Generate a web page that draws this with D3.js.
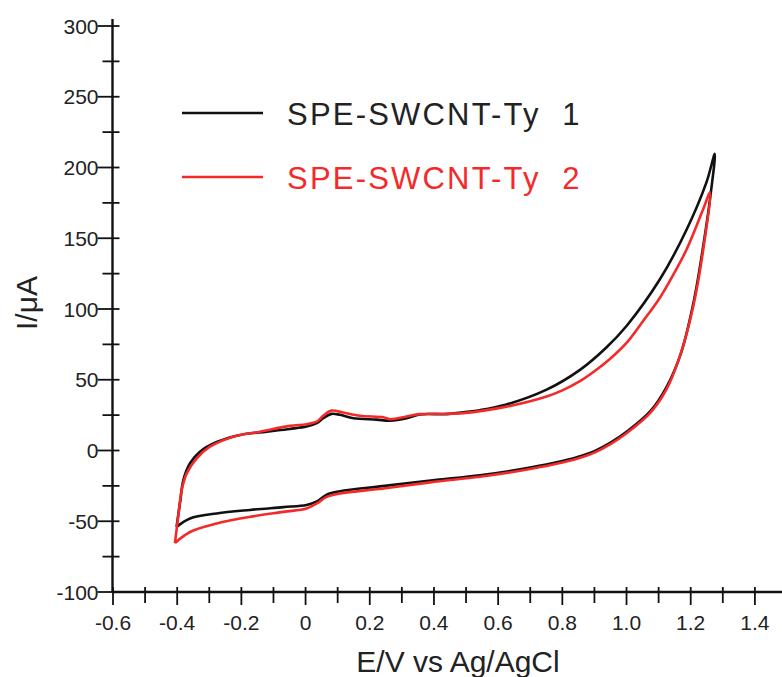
<!DOCTYPE html>
<html>
<head>
<meta charset="utf-8">
<script src="https://cdn.jsdelivr.net/npm/d3@7"></script>
<style>
  html, body { margin: 0; padding: 0; background: #fff; }
  svg { display: block; font-family: "Liberation Sans", Arial, sans-serif; }
</style>
</head>
<body>
<div id="chart"></div>
<script>
// cyclic voltammograms (E in V, I in µA)
// each list runs from -0.4 V up to the switching potential and back
const ty1E = [-0.402, -0.39, -0.381, -0.36, -0.33, -0.277, -0.204, -0.121, -0.049, 0.003, 0.035, 0.055, 0.081, 0.107, 0.149, 0.221, 0.263, 0.315, 0.356, 0.44, 0.491, 0.543, 0.626, 0.751, 0.855, 0.938, 1.0, 1.104, 1.187, 1.249, 1.275,
              1.262, 1.24, 1.21, 1.17, 1.125, 1.075, 1.0, 0.95, 0.9, 0.85, 0.8, 0.75, 0.65, 0.543, 0.39, 0.24, 0.107, 0.066, 0.035, 0.003, -0.069, -0.173, -0.277, -0.36, -0.402];
const ty1I = [-54, -35, -21, -9, -1, 6, 11, 13.3, 15.2, 16.9, 19.3, 22.8, 25.9, 25.2, 22.8, 21.8, 21.1, 22.8, 25.5, 25.7, 27, 28.5, 32.5, 43, 57, 73, 88, 121, 156, 189.5, 209.6,
              181, 146, 106, 69, 45, 28, 13.2, 5.5, -0.5, -4.5, -7.5, -10, -14, -17.5, -21.2, -25.2, -28.8, -31.2, -36, -38.5, -40, -42, -44.5, -48, -54];
const ty2E = [-0.407, -0.397, -0.386, -0.37, -0.339, -0.298, -0.225, -0.142, -0.049, 0.003, 0.035, 0.055, 0.081, 0.117, 0.17, 0.242, 0.263, 0.315, 0.356, 0.491, 0.626, 0.751, 0.8, 0.855, 0.9, 0.95, 1.0, 1.05, 1.104, 1.15, 1.187, 1.239, 1.26,
              1.239, 1.208, 1.166, 1.124, 1.073, 1.0, 0.95, 0.9, 0.85, 0.8, 0.75, 0.65, 0.543, 0.388, 0.242, 0.107, 0.066, 0.035, 0.003, -0.069, -0.173, -0.277, -0.36, -0.407];
const ty2I = [-65.4, -47, -28, -16, -5.5, 2.7, 9.8, 13.3, 17.4, 18.6, 20.4, 24.5, 28.2, 26.8, 24.5, 23.5, 22.1, 24, 25.7, 26.4, 31, 38.2, 42.5, 49, 56, 65, 76, 91, 108, 126, 142, 170.6, 182.4,
              142, 102, 66.5, 43, 26.4, 12.2, 4.5, -1.5, -5.5, -8.5, -11, -15, -18.5, -22.5, -26.8, -30.4, -32.8, -37.4, -41, -43.4, -46.9, -51.6, -57.6, -65.4];

const seriesNames = ["SPE-SWCNT-Ty  1", "SPE-SWCNT-Ty  2"];
const seriesColors = ["#111111", "#f42a2a"];

const xMajor = [-0.6, -0.4, -0.2, 0, 0.2, 0.4, 0.6, 0.8, 1.0, 1.2, 1.4];
const xTickLabels = ["-0.6", "-0.4", "-0.2", "0", "0.2", "0.4", "0.6", "0.8", "1.0", "1.2", "1.4"];
const xMinor = [-0.5, -0.3, -0.1, 0.1, 0.3, 0.5, 0.7, 0.9, 1.1, 1.3];
const yMajor = [-100, -50, 0, 50, 100, 150, 200, 250, 300];
const yTickLabels = ["-100", "-50", "0", "50", "100", "150", "200", "250", "300"];
const yMinor = [-75, -25, 25, 75, 125, 175, 225, 275];

const width = 782, height = 677;

const svg = d3.select("#chart").append("svg")
  .attr("width", width)
  .attr("height", height);

const x = d3.scaleLinear().domain([-0.6, 1.5]).range([113, 787]);
const y = d3.scaleLinear().domain([-100, 300]).range([592, 26]);

const axisX0 = x(-0.6) - 0.5;
const axisY0 = y(-100);

// axis lines
svg.append("line")
  .attr("x1", axisX0).attr("x2", width)
  .attr("y1", axisY0).attr("y2", axisY0)
  .attr("stroke", "#111").attr("stroke-width", 2.4);

svg.append("line")
  .attr("x1", axisX0).attr("x2", axisX0)
  .attr("y1", axisY0).attr("y2", 19)
  .attr("stroke", "#111").attr("stroke-width", 2.4);

// x ticks, they hang below the axis
const xt = svg.append("g").attr("stroke", "#111").attr("stroke-width", 1.8);
xt.selectAll("line.maj")
  .data(xMajor)
  .join("line")
  .attr("class", "maj")
  .attr("x1", d => x(d)).attr("x2", d => x(d))
  .attr("y1", axisY0 - 5).attr("y2", axisY0 + 13);
xt.selectAll("line.min")
  .data(xMinor)
  .join("line")
  .attr("class", "min")
  .attr("x1", d => x(d)).attr("x2", d => x(d))
  .attr("y1", axisY0 - 5).attr("y2", axisY0 + 11);

svg.append("g")
  .selectAll("text")
  .data(xMajor)
  .join("text")
  .attr("x", d => x(d))
  .attr("y", 630)
  .attr("text-anchor", "middle")
  .style("font-size", "21px")
  .style("fill", "#222")
  .text((d, i) => xTickLabels[i]);

// y ticks cross the axis
const yt = svg.append("g").attr("stroke", "#111").attr("stroke-width", 1.8);
yt.selectAll("line.maj")
  .data(yMajor)
  .join("line")
  .attr("class", "maj")
  .attr("x1", axisX0 - 15).attr("x2", axisX0 + 7)
  .attr("y1", d => y(d)).attr("y2", d => y(d));
yt.selectAll("line.min")
  .data(yMinor)
  .join("line")
  .attr("class", "min")
  .attr("x1", axisX0 - 10).attr("x2", axisX0 + 7)
  .attr("y1", d => y(d)).attr("y2", d => y(d));

svg.append("g")
  .selectAll("text")
  .data(yMajor)
  .join("text")
  .attr("x", axisX0 - 14)
  .attr("y", d => y(d) + 7.5)
  .attr("text-anchor", "end")
  .style("font-size", "21px")
  .style("fill", "#222")
  .text((d, i) => yTickLabels[i]);

// axis titles
svg.append("text")
  .attr("x", 458)
  .attr("y", 672)
  .attr("text-anchor", "middle")
  .style("font-size", "30px")
  .style("fill", "#222")
  .text("E/V vs Ag/AgCl");

svg.append("text")
  .attr("transform", "translate(37,303) rotate(-90)")
  .attr("text-anchor", "middle")
  .style("font-size", "30px")
  .style("fill", "#222")
  .text("I/μA");

// curves
const line = d3.line()
  .x(d => x(d[0]))
  .y(d => y(d[1]))
  .curve(d3.curveCatmullRom.alpha(0.5));

const curves = [
  ty1E.map((e, i) => [e, ty1I[i]]),
  ty2E.map((e, i) => [e, ty2I[i]])
];

// red drawn last, it sits on top of the black one
svg.append("g")
  .attr("fill", "none")
  .attr("stroke-width", 2.6)
  .attr("stroke-linejoin", "round")
  .selectAll("path")
  .data(curves)
  .join("path")
  .attr("stroke", (d, i) => seriesColors[i])
  .attr("d", line);

// legend
const legend = svg.append("g")
  .selectAll("g")
  .data(seriesNames)
  .join("g")
  .attr("transform", (d, i) => `translate(0,${113 + i * 64})`);

legend.append("line")
  .attr("x1", 182).attr("x2", 263)
  .attr("y1", 0).attr("y2", 0)
  .attr("stroke", (d, i) => seriesColors[i])
  .attr("stroke-width", 2.4);

legend.append("text")
  .attr("x", 287)
  .attr("y", 12)
  .style("font-size", "31px")
  .style("letter-spacing", "2.2px")
  .style("white-space", "pre")
  .style("fill", (d, i) => i === 0 ? "#222" : seriesColors[i])
  .text(d => d);
</script>
</body>
</html>
